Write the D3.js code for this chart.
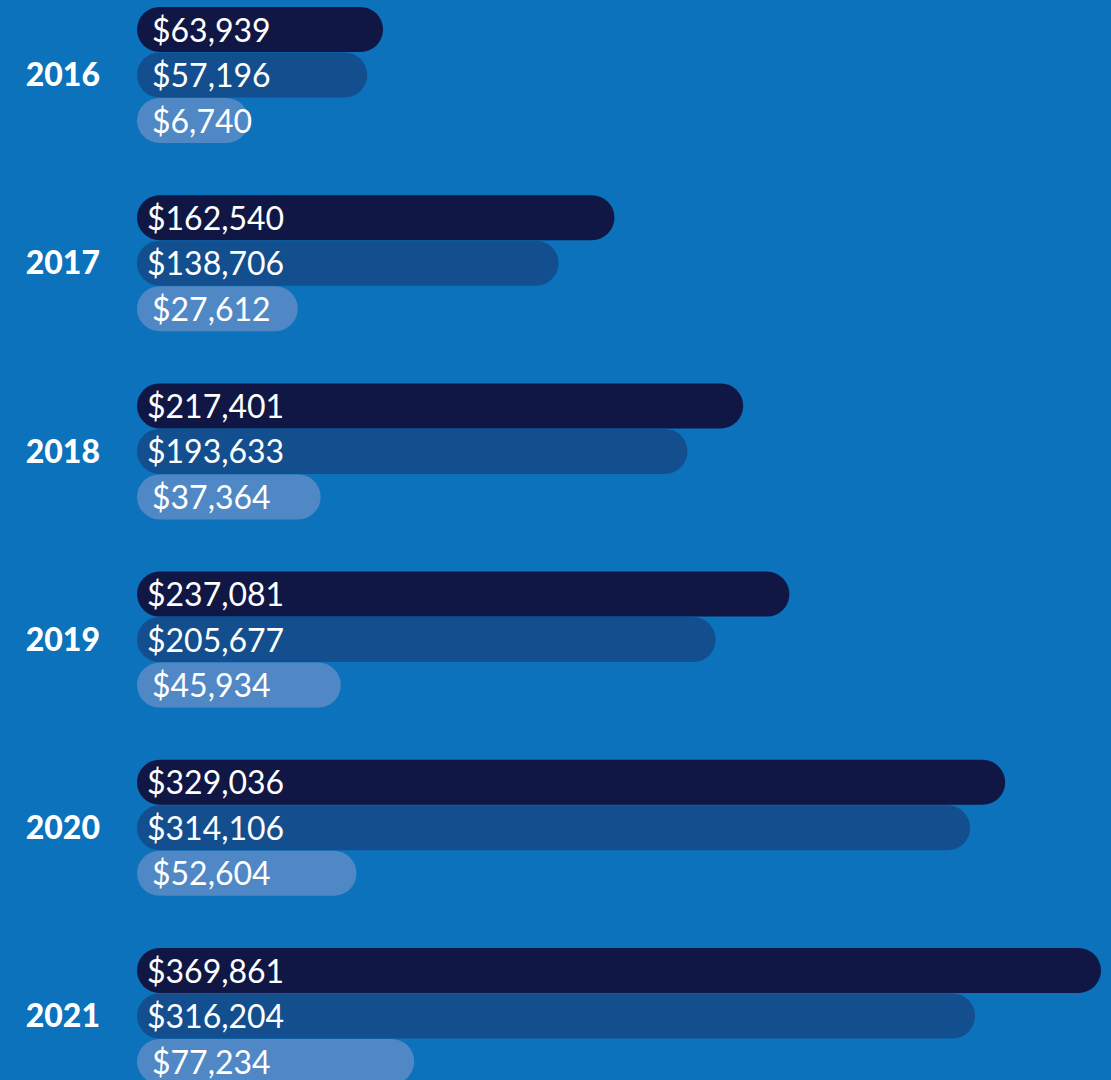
<!DOCTYPE html>
<html>
<head>
<meta charset="utf-8">
<script src="https://cdn.jsdelivr.net/npm/d3@7"></script>
<style>
  html, body { margin: 0; padding: 0; background: #0b72bb; }
  svg { display: block; }
</style>
</head>
<body>
<svg id="chart"></svg>
<script>
const width = 1111
const height = 1080

const years = ['2016', '2017', '2018', '2019', '2020', '2021']
const series = ['first', 'second', 'third']
const firstValues = [63939, 162540, 217401, 237081, 329036, 369861]
const secondValues = [57196, 138706, 193633, 205677, 314106, 316204]
const thirdValues = [6740, 27612, 37364, 45934, 52604, 77234]

const color = d3.scaleOrdinal()
  .domain(series)
  .range(['#111744', '#134f8e', '#5088c5'])

const barLeft = 137
const barHeight = 45

const svg = d3.select('#chart')
  .attr('width', width)
  .attr('height', height)

svg.append('rect')
  .attr('width', width)
  .attr('height', height)
  .attr('fill', '#0b72bb')

// one group per year, 188px apart
const y = d3.scaleBand()
  .domain(years)
  .range([7, 7 + 188.2 * years.length])

const yInner = d3.scaleBand()
  .domain(series)
  .range([0, 136.5])

// bars keep some room for the label even when the value is small
const x = d3.scaleLinear()
  .domain([0, d3.max(firstValues)])
  .range([96, 964])

const rows = years.map((year, i) => ({
  year,
  bars: [
    { key: 'first', value: firstValues[i] },
    { key: 'second', value: secondValues[i] },
    { key: 'third', value: thirdValues[i] }
  ]
}))

const fmt = d3.format('$,')

const group = svg.selectAll('.year')
  .data(rows)
  .enter()
  .append('g')
  .attr('class', 'year')
  .attr('transform', d => `translate(0, ${y(d.year)})`)

group.append('text')
  .attr('x', 100)
  .attr('y', 136.5 / 2)
  .attr('dy', 11)
  .attr('text-anchor', 'end')
  .attr('fill', '#fff')
  .style('font-family', 'Lato')
  .style('font-weight', 900)
  .style('font-size', '32px')
  .text(d => d.year)

const bar = group.selectAll('.bar')
  .data(d => d.bars)
  .enter()
  .append('g')
  .attr('class', 'bar')
  .attr('transform', d => `translate(${barLeft}, ${yInner(d.key)})`)

bar.append('rect')
  .attr('width', d => x(d.value))
  .attr('height', barHeight)
  .attr('rx', barHeight / 2)
  .attr('fill', d => color(d.key))

bar.append('text')
  .attr('x', d => d.value >= 100000 ? 10 : 15)
  .attr('y', barHeight / 2)
  .attr('dy', 12)
  .attr('fill', '#fff')
  .style('font-family', 'Lato')
  .style('font-size', '32px')
  .text(d => fmt(d.value))
</script>
</body>
</html>
